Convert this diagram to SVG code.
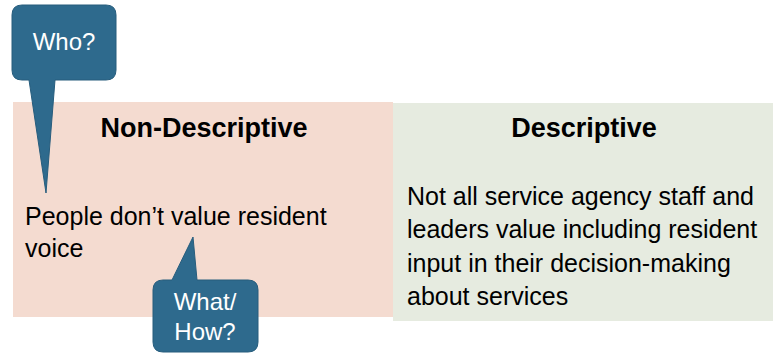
<svg xmlns="http://www.w3.org/2000/svg" width="774" height="354" viewBox="0 0 774 354">
<style>
text{font-family:"Liberation Sans",Arial,sans-serif;}
.title{font-size:27px;font-weight:bold;fill:#000;text-anchor:middle;}
.body{font-size:25px;fill:#000;}
.callout{fill:#2e6a8d;stroke:#275d7d;stroke-width:1;}
.ctext{font-size:24px;fill:#fff;text-anchor:middle;}
</style>
<rect width="774" height="354" fill="#ffffff"/>
<g id="non-descriptive">
<rect x="13" y="102" width="380" height="215" fill="#f4dbd0"/>
<text class="title" x="204" y="137">Non-Descriptive</text>
<text class="body" x="25" y="225">People don’t value resident</text>
<text class="body" x="25" y="257">voice</text>
</g>
<g id="descriptive">
<rect x="393" y="103" width="380" height="218" fill="#e6ebe0"/>
<text class="title" x="584" y="137">Descriptive</text>
<text class="body" x="407" y="205">Not all service agency staff and</text>
<text class="body" x="407" y="238">leaders value including resident</text>
<text class="body" x="407" y="272">input in their decision-making</text>
<text class="body" x="407" y="305">about services</text>
</g>
<g id="connectors"></g>
<g id="who">
<path class="callout" d="M22,5 H106 Q116,5 116,15 V70 Q116,80 106,80 H55 L46,193 L29,80 H22 Q12,80 12,70 V15 Q12,5 22,5 Z"/>
<text class="ctext" x="64" y="50">Who?</text>
</g>
<g id="what-how">
<path class="callout" d="M163,280 H172 L193,237 L197,280 H248 Q258,280 258,290 V342 Q258,352 248,352 H163 Q153,352 153,342 V290 Q153,280 163,280 Z"/>
<text class="ctext" x="205" y="310">What/</text>
<text class="ctext" x="205" y="340">How?</text>
</g>
</svg>
